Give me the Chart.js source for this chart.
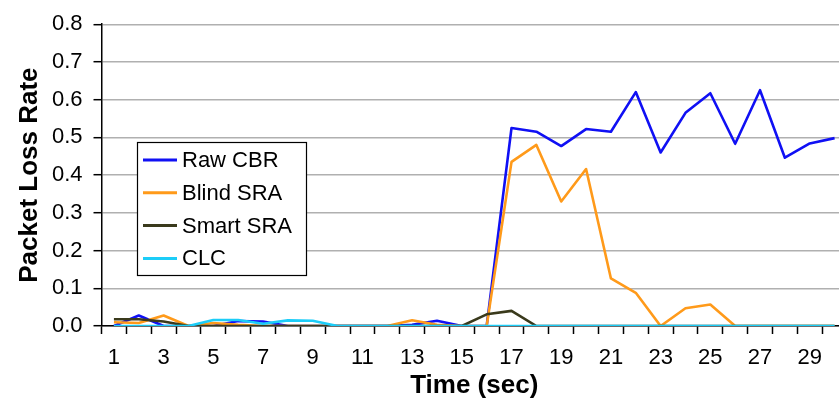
<!DOCTYPE html>
<html>
<head>
<meta charset="utf-8">
<script src="https://cdn.jsdelivr.net/npm/chart.js@4/dist/chart.umd.min.js"></script>
<style>
  html, body { margin: 0; padding: 0; background: #fff; }
  #frame { width: 839px; height: 401px; overflow: hidden; position: relative; }
  #c { display: block; }
</style>
</head>
<body>
<div id="frame"><canvas id="c" width="847" height="401"></canvas></div>
<script>
// Time axis (seconds)
const seconds = [1, 2, 3, 4, 5, 6, 7, 8, 9, 10, 11, 12, 13, 14, 15,
                 16, 17, 18, 19, 20, 21, 22, 23, 24, 25, 26, 27, 28, 29, 30];

// Packet loss rate per scheme
const rawCBR   = [0, 0.028, 0, 0, 0, 0.013, 0.012, 0, 0, 0, 0, 0, 0.003, 0.014, 0,
                  0, 0.525, 0.515, 0.477, 0.522, 0.515, 0.62, 0.46, 0.565, 0.617, 0.483, 0.625, 0.446, 0.484, 0.498];
const blindSRA = [0.01, 0.008, 0.028, 0, 0.008, 0.003, 0, 0, 0, 0, 0, 0, 0.015, 0.003, 0,
                  0, 0.435, 0.48, 0.33, 0.416, 0.126, 0.088, 0, 0.047, 0.057, 0, 0, 0, 0, 0];
const smartSRA = [0.018, 0.018, 0.012, 0, 0, 0, 0, 0, 0, 0, 0, 0, 0, 0, 0,
                  0.031, 0.04, 0, 0, 0, 0, 0, 0, 0, 0, 0, 0, 0, 0, 0];
const clc      = [0, 0, 0, 0, 0.016, 0.016, 0.006, 0.015, 0.014, 0, 0, 0, 0, 0, 0,
                  0, 0, 0, 0, 0, 0, 0, 0, 0, 0, 0, 0, 0, 0, 0];

const yTickLabels = ['0.0', '0.1', '0.2', '0.3', '0.4', '0.5', '0.6', '0.7', '0.8'];

const FONT = '"Liberation Sans", Arial, sans-serif';
Chart.defaults.color = '#000';
Chart.defaults.font.family = FONT;

// Boxed legend drawn inside the plot area
const boxLegend = {
  id: 'boxLegend',
  afterDatasetsDraw(chart) {
    const ctx = chart.ctx;
    const x = 137, y = 142, w = 169, h = 133;
    ctx.save();
    ctx.fillStyle = '#fff';
    ctx.fillRect(x, y, w, h);
    ctx.strokeStyle = '#000';
    ctx.lineWidth = 1.2;
    ctx.strokeRect(x + 0.5, y + 0.5, w, h);
    ctx.font = '22px ' + FONT;
    ctx.textBaseline = 'middle';
    chart.data.datasets.forEach((ds, i) => {
      const cy = y + 18 + i * 32.8;
      ctx.strokeStyle = ds.borderColor;
      ctx.lineWidth = 3;
      ctx.beginPath();
      ctx.moveTo(x + 6, cy);
      ctx.lineTo(x + 40, cy);
      ctx.stroke();
      ctx.fillStyle = '#000';
      ctx.fillText(ds.label, x + 45, cy + 1);
    });
    ctx.restore();
  }
};

const lineStyle = { borderWidth: 2.6, pointRadius: 0, tension: 0, borderJoinStyle: 'round', fill: false };

new Chart(document.getElementById('c'), {
  type: 'line',
  data: {
    labels: seconds,
    datasets: [
      { label: 'Raw CBR',   data: rawCBR,   borderColor: '#1010f4', order: 4, ...lineStyle },
      { label: 'Blind SRA', data: blindSRA, borderColor: '#ff9a1a', order: 3, ...lineStyle },
      { label: 'Smart SRA', data: smartSRA, borderColor: '#3a3a1c', order: 2, ...lineStyle },
      { label: 'CLC',       data: clc,      borderColor: '#1ccdf8', order: 1, ...lineStyle }
    ]
  },
  options: {
    responsive: false,
    animation: false,
    layout: { padding: { top: 18, left: 0, right: 0, bottom: 0 } },
    plugins: { legend: { display: false }, tooltip: { enabled: false } },
    scales: {
      x: {
        type: 'category',
        offset: true,
        border: { display: true, color: '#000', width: 1.5 },
        grid: { offset: true, drawOnChartArea: false, drawTicks: true, tickLength: 8, tickColor: '#000', tickWidth: 1.5 },
        ticks: {
          autoSkip: false, maxRotation: 0, padding: 11,
          font: { size: 22 },
          callback: (v, i) => (i % 2 === 0 ? String(seconds[i]) : '')
        },
        title: { display: true, text: 'Time (sec)', font: { size: 26, weight: 'bold' }, padding: { top: 0, bottom: 0 } },
        afterFit: (s) => { s.height = 75; }
      },
      y: {
        min: 0, max: 0.8,
        border: { display: true, color: '#000', width: 1.5 },
        grid: { color: '#b0b0b0', lineWidth: 1.4, drawTicks: true, tickLength: 8, tickColor: '#000', tickWidth: 1.5 },
        ticks: {
          stepSize: 0.1, padding: 11,
          font: { size: 22 },
          callback: (v, i) => yTickLabels[i]
        },
        title: { display: true, text: 'Packet Loss Rate', font: { size: 26, weight: 'bold' }, padding: { top: 14, bottom: 0 } },
        afterFit: (s) => { s.width = 101.5; }
      }
    }
  },
  plugins: [boxLegend]
});
</script>
</body>
</html>
